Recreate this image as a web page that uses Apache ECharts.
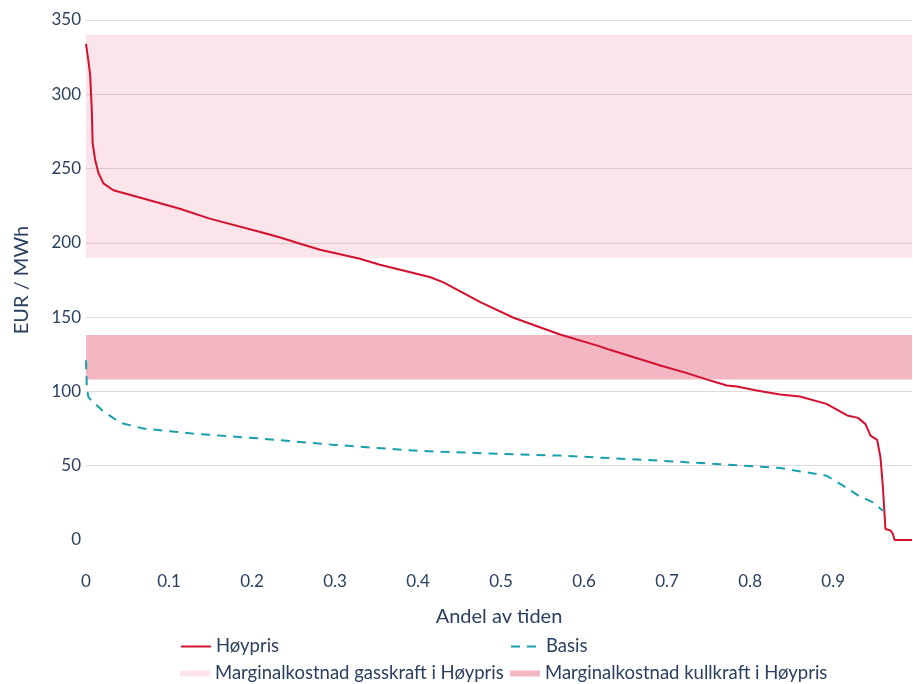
<!DOCTYPE html>
<html>
<head>
<meta charset="utf-8">
<script src="https://cdn.jsdelivr.net/npm/echarts@6/dist/echarts.min.js"></script>
<style>html,body{margin:0;padding:0;background:#fff}#c{width:913px;height:684px}</style>
</head>
<body>
<div id="c"></div>
<script>
// Data
const hoyprisX = [0, 0.003, 0.005, 0.007, 0.008, 0.011, 0.015, 0.021, 0.033, 0.069, 0.113, 0.149, 0.21, 0.234, 0.258, 0.282, 0.33, 0.354, 0.414, 0.43, 0.475, 0.515, 0.571, 0.619, 0.631, 0.692, 0.724, 0.752, 0.772, 0.784, 0.808, 0.836, 0.86, 0.892, 0.917, 0.93, 0.939, 0.945, 0.953, 0.957, 0.96, 0.963, 0.969, 0.972, 0.974, 0.995];
const hoyprisY = [334, 322, 313, 289, 267, 256, 247, 240, 235.4, 229.8, 223, 216.3, 207.3, 203.6, 199.4, 195.4, 189.3, 185.3, 177, 173.6, 160.1, 149.6, 138.3, 130.3, 128, 117.4, 112.3, 107.3, 104, 103.3, 100.6, 97.9, 96.6, 91.6, 83.8, 82.2, 78, 70.3, 67.4, 55.7, 35, 7.4, 6.5, 4, 0, 0];
const basisX = [0, 0.001, 0.003, 0.02, 0.041, 0.069, 0.129, 0.21, 0.3, 0.4, 0.5, 0.571, 0.692, 0.772, 0.836, 0.852, 0.892, 0.912, 0.93, 0.948, 0.96];
const basisY = [121, 102, 96, 87, 79, 75, 71.6, 68.3, 64, 60, 58, 56.8, 53.4, 50.7, 48.5, 47, 43.3, 36.6, 30, 25.3, 19.7];
const gasBand = [190, 340];
const coalBand = [108, 138];
const xTicks = [0, 0.1, 0.2, 0.3, 0.4, 0.5, 0.6, 0.7, 0.8, 0.9];
const yTicks = [0, 50, 100, 150, 200, 250, 300, 350];

const names = {
  hoy: 'Høypris',
  basis: 'Basis',
  gas: 'Marginalkostnad gasskraft i Høypris',
  coal: 'Marginalkostnad kullkraft i Høypris'
};
const RED = '#d3112f', TEAL = '#17a0ac';
const GAS = 'rgba(215,20,60,0.11)', COAL = 'rgba(215,20,60,0.31)';
const TXT = '#2a3f5f';
const FONT = 'Lato';

const zip = (xs, ys) => xs.map((x, i) => [x, ys[i]]);

const chart = echarts.init(document.getElementById('c'), null, {renderer: 'canvas'});
const legendBase = {
  orient: 'horizontal', itemWidth: 30, itemHeight: 14, padding: 0,
  textStyle: {color: TXT, fontSize: 18.5, fontFamily: FONT},
  selectedMode: false
};
chart.setOption({
  animation: false,
  textStyle: {fontFamily: FONT},
  grid: {left: 86, top: 20, right: 1, bottom: 144, containLabel: false, outerBoundsMode: 'none'},
  xAxis: {
    type: 'value', min: 0, max: 0.995, interval: 0.1,
    name: 'Andel av tiden', nameLocation: 'middle', nameGap: 67,
    nameTextStyle: {color: TXT, fontSize: 20, fontFamily: FONT},
    axisLine: {show: false}, axisTick: {show: false}, splitLine: {show: false},
    axisLabel: {
      color: TXT, fontSize: 17, fontFamily: FONT, margin: 33,
      showMaxLabel: false,
      formatter: v => (xTicks.some(t => Math.abs(t - v) < 1e-6) ? String(Math.round(v * 10) / 10) : '')
    }
  },
  yAxis: {
    type: 'value', min: yTicks[0], max: yTicks[yTicks.length - 1], interval: 50,
    name: 'EUR / MWh', nameLocation: 'middle', nameGap: 54,
    nameTextStyle: {color: TXT, fontSize: 20, fontFamily: FONT},
    axisLine: {show: false}, axisTick: {show: false},
    axisLabel: {color: TXT, fontSize: 17, fontFamily: FONT, margin: 5},
    splitLine: {show: true, lineStyle: {color: ['rgba(0,0,0,0)', '#dcdcdc', '#dcdcdc', '#dcdcdc', '#dcdcdc', '#dcdcdc', '#dcdcdc', '#dcdcdc'], width: 1}}
  },
  legend: [
    Object.assign({}, legendBase, {left: 180, top: 637, itemStyle: {opacity: 0}, data: [names.hoy]}),
    Object.assign({}, legendBase, {left: 510, top: 637, itemStyle: {opacity: 0}, data: [names.basis]}),
    Object.assign({}, legendBase, {left: 180, top: 664, itemHeight: 6,
      data: [{name: names.gas, icon: 'rect', itemStyle: {color: GAS}}]}),
    Object.assign({}, legendBase, {left: 510, top: 664, itemHeight: 6,
      data: [{name: names.coal, icon: 'rect', itemStyle: {color: COAL}}]})
  ],
  series: [
    {
      name: names.gas, type: 'line', data: [], symbol: 'none',
      itemStyle: {color: GAS}, lineStyle: {color: GAS},
      markArea: {silent: true, itemStyle: {color: GAS}, data: [[{yAxis: gasBand[0]}, {yAxis: gasBand[1]}]]},
      z: 1
    },
    {
      name: names.coal, type: 'line', data: [], symbol: 'none',
      itemStyle: {color: COAL}, lineStyle: {color: COAL},
      markArea: {silent: true, itemStyle: {color: COAL}, data: [[{yAxis: coalBand[0]}, {yAxis: coalBand[1]}]]},
      z: 1
    },
    {
      name: names.hoy, type: 'line', data: zip(hoyprisX, hoyprisY), symbol: 'none',
      itemStyle: {color: RED}, lineStyle: {color: RED, width: 2}, z: 3
    },
    {
      name: names.basis, type: 'line', data: zip(basisX, basisY), symbol: 'none',
      itemStyle: {color: TEAL}, lineStyle: {color: TEAL, width: 2, type: [9, 7]}, z: 3
    }
  ]
});
</script>
</body>
</html>
